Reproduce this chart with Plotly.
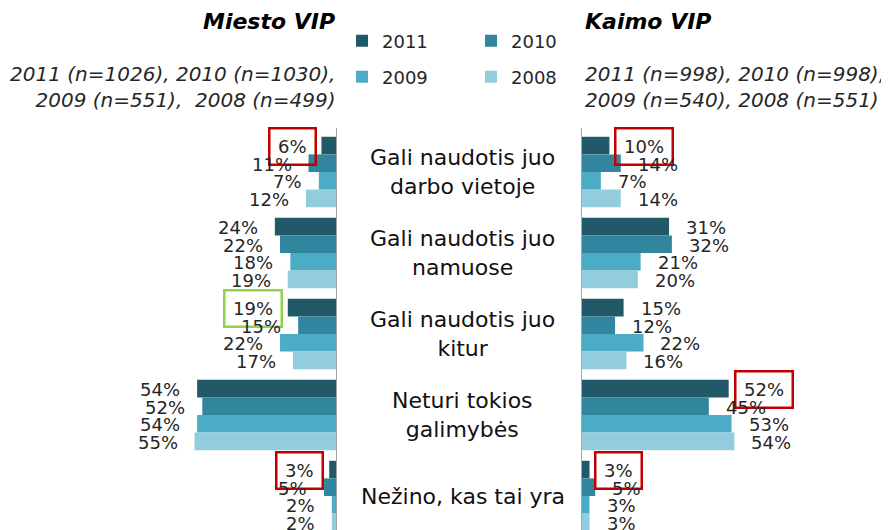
import plotly.graph_objects as go

# ---------------- data ----------------
categories = [
    "Gali naudotis juo darbo vietoje",
    "Gali naudotis juo namuose",
    "Gali naudotis juo kitur",
    "Neturi tokios galimybės",
    "Nežino, kas tai yra",
]
category_labels = [
    "Gali naudotis juo<br>darbo vietoje",
    "Gali naudotis juo<br>namuose",
    "Gali naudotis juo<br>kitur",
    "Neturi tokios<br>galimybės",
    "Nežino, kas tai yra",
]
years = ["2011", "2010", "2009", "2008"]

miesto_2011 = [6, 24, 19, 54, 3]
miesto_2010 = [11, 22, 15, 52, 5]
miesto_2009 = [7, 18, 22, 54, 2]
miesto_2008 = [12, 19, 17, 55, 2]

kaimo_2011 = [10, 31, 15, 52, 3]
kaimo_2010 = [14, 32, 12, 45, 5]
kaimo_2009 = [7, 21, 22, 53, 3]
kaimo_2008 = [14, 20, 16, 54, 3]

miesto = [miesto_2011, miesto_2010, miesto_2009, miesto_2008]
kaimo = [kaimo_2011, kaimo_2010, kaimo_2009, kaimo_2008]

title_left = "Miesto VIP"
title_right = "Kaimo VIP"
sub_left = "2011 (n=1026), 2010 (n=1030),<br>2009 (n=551),\u00a0 2008 (n=499)"
sub_right = "2011 (n=998), 2010 (n=998),<br>2009 (n=540), 2008 (n=551)"

# highlighted labels: (side, category index, year index, color)
highlights = [
    ("left", 0, 0, "#c00000"),
    ("left", 2, 0, "#92d050"),
    ("left", 4, 0, "#c00000"),
    ("right", 0, 0, "#c00000"),
    ("right", 3, 0, "#c00000"),
    ("right", 4, 0, "#c00000"),
]

# ---------------- style ----------------
colors = ["#215968", "#31859c", "#4bacc6", "#93cddd"]
FONT = "DejaVu Sans"
OFF = 8                      # page body margin
PAGE_W, PAGE_H = 889, 530
W, H = PAGE_W - OFF, PAGE_H - OFF
MT = 128 - OFF
MB = 0
BARGAP = 0.13
VAL_SIZE = 18
TXT = "#262626"


def px(x):
    """page x pixel -> paper fraction"""
    return (x - OFF) / W


def py(y):
    """page y pixel -> paper fraction"""
    return (H - MB - (y - OFF)) / (H - MT - MB)


ypos = list(range(len(categories)))
bw = (1 - BARGAP) / len(years)

fig = go.Figure()
for k, yr in enumerate(years):
    fig.add_trace(go.Bar(
        y=ypos, x=miesto[k], orientation="h", name=yr,
        marker=dict(color=colors[k], line=dict(width=0)),
        xaxis="x", yaxis="y", showlegend=True,
        legend="legend" if k < 2 else "legend2",
        hoverinfo="skip",
    ))
for k, yr in enumerate(years):
    fig.add_trace(go.Bar(
        y=ypos, x=kaimo[k], orientation="h", name=yr,
        marker=dict(color=colors[k], line=dict(width=0)),
        xaxis="x2", yaxis="y", showlegend=False,
        hoverinfo="skip",
    ))

hl = {(s, i, k): c for s, i, k, c in highlights}


def text_w(t):
    n = sum(ch.isdigit() for ch in t)
    return VAL_SIZE * (0.636 * n + 0.95)


annotations = []
for side, data, xr in (("left", miesto, "x"), ("right", kaimo, "x2")):
    sign = -1 if side == "left" else 1
    for k in range(len(years)):
        for i, v in enumerate(data[k]):
            yv = i - (1 - BARGAP) / 2 + bw * (k + 0.5)
            t = f"{v}%"
            key = (side, i, k)
            if key in hl:
                tw = text_w(t)
                annotations.append(dict(
                    x=v, y=yv, xref=xr, yref="y", text=t, showarrow=False,
                    xanchor="center", yanchor="middle",
                    xshift=sign * (15 + tw / 2), yshift=-1,
                    font=dict(family=FONT, size=VAL_SIZE, color=TXT),
                    bordercolor=hl[key], borderwidth=2.5, borderpad=3,
                    width=tw + 9, height=28,
                ))
            else:
                annotations.append(dict(
                    x=v, y=yv, xref=xr, yref="y", text=t, showarrow=False,
                    xanchor="right" if side == "left" else "left",
                    yanchor="middle",
                    xshift=sign * 15, yshift=-1,
                    font=dict(family=FONT, size=VAL_SIZE, color=TXT),
                ))

for i, lab in enumerate(category_labels):
    annotations.append(dict(
        x=px(463), y=i, xref="paper", yref="y", text=lab, showarrow=False,
        xanchor="center", yanchor="middle",
        font=dict(family=FONT, size=22, color="#111111"),
    ))

annotations += [
    dict(x=px(337), y=py(22), xref="paper", yref="paper", text=f"<b><i>{title_left}</i></b>",
         showarrow=False, xanchor="right", yanchor="middle",
         font=dict(family=FONT, size=22, color="#000000")),
    dict(x=px(583), y=py(22), xref="paper", yref="paper", text=f"<b><i>{title_right}</i></b>",
         showarrow=False, xanchor="left", yanchor="middle",
         font=dict(family=FONT, size=22, color="#000000")),
    dict(x=px(337), y=py(87), xref="paper", yref="paper", text=f"<i>{sub_left}</i>",
         showarrow=False, xanchor="right", yanchor="middle", align="right",
         font=dict(family=FONT, size=20, color=TXT)),
    dict(x=px(583), y=py(87), xref="paper", yref="paper", text=f"<i>{sub_right}</i>",
         showarrow=False, xanchor="left", yanchor="middle", align="left",
         font=dict(family=FONT, size=20, color=TXT)),
]

shapes = [
    dict(type="line", xref="x", yref="paper", x0=0, x1=0, y0=0, y1=1,
         line=dict(color="#a6a6a6", width=2)),
    dict(type="line", xref="x2", yref="paper", x0=0, x1=0, y0=0, y1=1,
         line=dict(color="#a6a6a6", width=2)),
]

left_scale = 2.59
right_scale = 2.84

legend_style = dict(
    orientation="h", xanchor="left", yanchor="middle",
    font=dict(family=FONT, size=18, color=TXT),
    bgcolor="rgba(0,0,0,0)", entrywidth=84, entrywidthmode="pixels",
    itemclick=False, itemdoubleclick=False,
)

fig.update_layout(
    width=W, height=H,
    margin=dict(l=0, r=0, t=MT, b=MB, pad=0),
    paper_bgcolor="white", plot_bgcolor="white",
    barmode="group", bargap=BARGAP, bargroupgap=0,
    font=dict(family=FONT, color=TXT),
    xaxis=dict(domain=[0, px(337)], range=[(337 - OFF) / left_scale, 0],
               showgrid=False, zeroline=False, showticklabels=False, ticks=""),
    xaxis2=dict(domain=[px(581), 1], range=[0, (PAGE_W - 581) / right_scale],
                showgrid=False, zeroline=False, showticklabels=False, ticks=""),
    yaxis=dict(range=[4 + 34 / 81, -0.5 - 3.5 / 81], showgrid=False, zeroline=False,
               showticklabels=False, ticks=""),
    legend=dict(x=px(342), y=py(41), **legend_style),
    legend2=dict(x=px(342), y=py(77), **legend_style),
    annotations=annotations,
    shapes=shapes,
)

fig.write_html("out.html")
